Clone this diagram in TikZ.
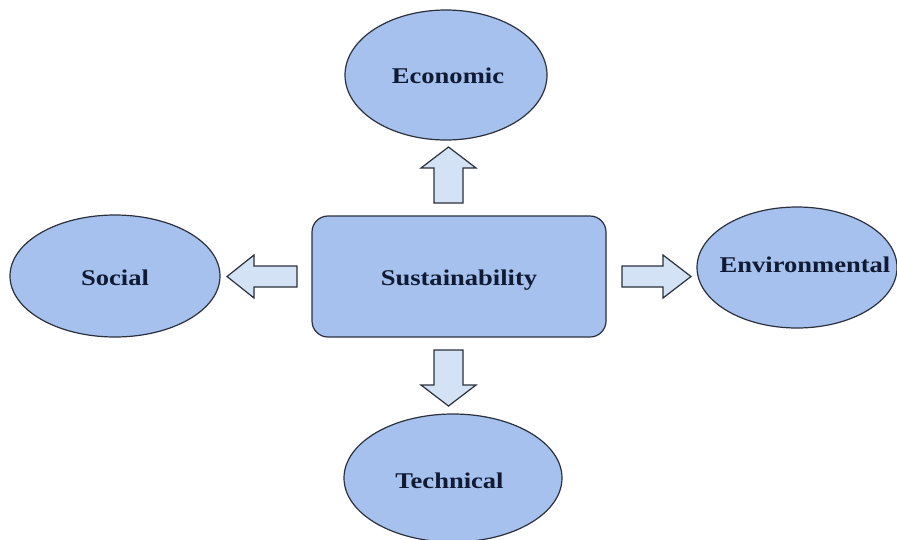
\documentclass[tikz,border=0pt]{standalone}
\usepackage{fontspec}
\setmainfont{Liberation Serif}
\usetikzlibrary{shapes.geometric}
\definecolor{bubble}{HTML}{A6C1EE}
\definecolor{arrowfill}{HTML}{D3E2F4}
\definecolor{edge}{HTML}{2A303C}
\definecolor{ink}{HTML}{101A33}
\newcommand{\lbl}[1]{\scalebox{1.18}[1]{\fontsize{22.5}{26}\selectfont\bfseries #1}}
\begin{document}
\begin{tikzpicture}[x=1pt,y=-1pt,
  bubble/.style={ellipse,draw=edge,line width=1.2pt,fill=bubble,inner sep=0pt},
  hub/.style={rectangle,rounded corners=16pt,draw=edge,line width=1.2pt,fill=bubble,inner sep=0pt},
  blockarrow/.style={draw=edge,line width=1.2pt,fill=arrowfill,line join=miter},
  txt/.style={text=ink,inner sep=0pt,anchor=base}]
\useasboundingbox (0,0) rectangle (897,539);
% shapes
\node[hub,minimum width=294pt,minimum height=121pt] (sus) at (459,276.5) {};
\node[bubble,minimum width=202pt,minimum height=130pt] (eco) at (446,75) {};
\node[bubble,minimum width=210pt,minimum height=122pt] (soc) at (115,276) {};
\node[bubble,minimum width=200pt,minimum height=121pt] (env) at (797,267.5) {};
\node[bubble,minimum width=218pt,minimum height=128pt] (tec) at (453,478) {};
% labels
\node[txt] (susl) at (459,285) {\lbl{Sustainability}};
\node[txt] (ecol) at (448,83) {\lbl{Economic}};
\node[txt] (socl) at (115,285) {\lbl{Social}};
\node[txt] (envl) at (805,272) {\lbl{Environmental}};
\node[txt] (tecl) at (449.5,488) {\lbl{Technical}};
% block arrows
\draw[blockarrow] (434,203) -- (434,168) -- (421,168) -- (448.5,147) -- (476,168) -- (463,168) -- (463,203) -- cycle;
\draw[blockarrow] (434,350) -- (434,385) -- (421,385) -- (448.5,406) -- (476,385) -- (463,385) -- (463,350) -- cycle;
\draw[blockarrow] (297,266) -- (254,266) -- (254,255) -- (227,276.5) -- (254,298) -- (254,287) -- (297,287) -- cycle;
\draw[blockarrow] (622,266) -- (663,266) -- (663,255) -- (691,276.5) -- (663,298) -- (663,287) -- (622,287) -- cycle;
\end{tikzpicture}
\end{document}
